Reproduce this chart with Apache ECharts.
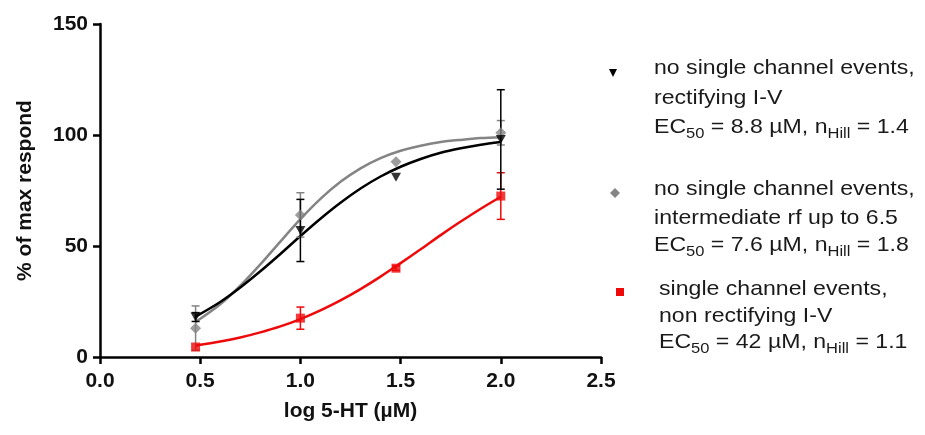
<!DOCTYPE html>
<html>
<head>
<meta charset="utf-8">
<script src="https://cdn.jsdelivr.net/npm/echarts@6/dist/echarts.min.js"></script>
<style>
html,body{margin:0;padding:0;background:#fff;}
#chart{width:925px;height:435px;}
</style>
</head>
<body>
<div id="chart"></div>
<script>
// ---- data ----
const doseX = [0.477, 1.0, 1.477, 2.0];
const rectMean = [18, 57, 81, 98];
const rectErr = [2, 14, 0, 22.4];
const interMean = [13, 64, 88, 101];
const interErr = [10, 10, 0, 5.5];
const nonRectMean = [4.5, 17.5, 40, 72.5];
const nonRectErr = [0, 5, 1, 10.5];

const curveX = [0.477, 0.6, 0.7, 0.8, 0.9, 1.0, 1.1, 1.2, 1.3, 1.4, 1.5, 1.6, 1.7, 1.8, 1.9, 2.0];
const rectFit = [18.2, 24.8, 31.3, 38.6, 46.4, 54.5, 62.3, 69.5, 75.9, 81.3, 85.7, 89.2, 92.0, 94.0, 95.6, 96.8];
const interFit = [15.8, 23.8, 32.1, 41.7, 52.0, 62.1, 71.2, 78.9, 85.0, 89.6, 92.9, 95.2, 96.8, 97.8, 98.6, 99.0];
const nonRectFit = [5.2, 7.0, 8.8, 11.1, 13.8, 17.1, 21.0, 25.5, 30.6, 36.2, 42.3, 48.5, 54.9, 61.0, 66.8, 72.2];

const xTicks = ['0.0', '0.5', '1.0', '1.5', '2.0', '2.5'];
const yTicks = ['0', '50', '100', '150'];

const legendLines = [
  ['no single channel events,', 'rectifying I-V', 'EC{sub|50} = 8.8 µM, n{sub|Hill} = 1.4'],
  ['no single channel events,', 'intermediate rf up to 6.5', 'EC{sub|50} = 7.6 µM, n{sub|Hill} = 1.8'],
  ['single channel events,', 'non rectifying I-V', 'EC{sub|50} = 42 µM, n{sub|Hill} = 1.1']
];

// ---- styles ----
const BLACK = '#000000', GRAY = '#848484', RED = '#ee0a0a';
const FONT = '"Liberation Sans", Arial, sans-serif';

function pairs(xs, ys){ return xs.map((x,i)=>[x, ys[i]]); }
function errData(xs, m, e){ return xs.map((x,i)=>[x, m[i]-e[i], m[i]+e[i]]); }

function errSeries(data, color){
  return {
    type: 'custom',
    data: data,
    z: 3,
    renderItem: function(params, api){
      const x = api.value(0), lo = api.value(1), hi = api.value(2);
      if (hi - lo <= 0.01) return null;
      const pt = api.coord([x, hi]), pb = api.coord([x, lo]);
      const w = 4;
      const st = {stroke: color, lineWidth: 1.5};
      return {type:'group', children:[
        {type:'line', shape:{x1:pt[0], y1:pt[1], x2:pb[0], y2:pb[1]}, style:st},
        {type:'line', shape:{x1:pt[0]-w, y1:pt[1], x2:pt[0]+w, y2:pt[1]}, style:st},
        {type:'line', shape:{x1:pb[0]-w, y1:pb[1], x2:pb[0]+w, y2:pb[1]}, style:st}
      ]};
    }
  };
}

function fitSeries(data, color){
  return {type:'line', data:data, smooth:0.3, symbol:'none', lineStyle:{color:color, width:2.5}, z:2};
}

function ptSeries(data, color, symbol, size, rot){
  return {type:'scatter', data:data, symbol:symbol, symbolSize:size, symbolRotate:rot||0,
          itemStyle:{color:color}, z:4};
}

// legend graphics
const legendX = [654, 654, 659];
const legendY = [[72, 102, 131], [193, 222, 249], [293, 320, 346]];
const graphics = [];
const rich = {
  m: {fontSize: 21, fontFamily: FONT, color: '#1a1a1a', lineHeight: 28},
  sub: {fontSize: 15, fontFamily: FONT, color: '#1a1a1a', lineHeight: 15, verticalAlign: 'bottom'}
};
legendLines.forEach((lines, b) => {
  lines.forEach((t, i) => {
    const txt = t.replace(/^([^{]*)/, '{m|$1}').replace(/\}([^{]+)\{/g, '}{m|$1}{').replace(/\}([^{}]+)$/, '}{m|$1}');
    graphics.push({
      type: 'text', left: legendX[b], top: legendY[b][i] - 14, scaleX: 1.1,
      style: {text: txt, rich: rich, fontSize: 21, fontFamily: FONT, fill: '#1a1a1a'}
    });
  });
});
// legend markers
graphics.push({type:'polygon', shape:{points:[[609,69],[617,69],[613,77]]}, style:{fill:BLACK}});
graphics.push({type:'polygon', shape:{points:[[615,188],[620,193],[615,198],[610,193]]}, style:{fill:GRAY}});
graphics.push({type:'rect', shape:{x:616, y:288, width:8, height:8}, style:{fill:RED}});

const chart = echarts.init(document.getElementById('chart'), null, {renderer:'canvas'});
chart.setOption({
  backgroundColor: '#ffffff',
  animation: false,
  grid: {left: 100, right: 324, top: 24, bottom: 78, containLabel: false},
  xAxis: {
    type: 'value', min: 0, max: 2.5, interval: 0.5,
    name: 'log 5-HT (µM)', nameLocation: 'middle', nameGap: 44,
    nameTextStyle: {fontSize: 21, fontWeight: 'bold', fontFamily: FONT, color: '#111'},
    axisLine: {lineStyle: {color: '#000', width: 2.5}},
    axisTick: {length: 7, lineStyle: {color: '#000', width: 2.5}},
    axisLabel: {fontSize: 21, fontWeight: 'bold', fontFamily: FONT, color: '#111', margin: 14,
                formatter: v => xTicks[Math.round(v / 0.5)]},
    splitLine: {show: false}
  },
  yAxis: {
    type: 'value', min: 0, max: 150, interval: 50,
    name: '% of max respond', nameLocation: 'middle', nameGap: 64, nameRotate: 90,
    nameTextStyle: {fontSize: 21, fontWeight: 'bold', fontFamily: FONT, color: '#111'},
    axisLine: {show: true, lineStyle: {color: '#000', width: 2.5}},
    axisTick: {show: true, length: 7, lineStyle: {color: '#000', width: 2.5}},
    axisLabel: {fontSize: 21, fontWeight: 'bold', fontFamily: FONT, color: '#111', margin: 12,
                formatter: v => yTicks[Math.round(v / 50)]},
    splitLine: {show: false}
  },
  graphic: graphics,
  series: [
    fitSeries(pairs(curveX, nonRectFit), RED),
    fitSeries(pairs(curveX, interFit), GRAY),
    fitSeries(pairs(curveX, rectFit), BLACK),
    errSeries(errData(doseX, nonRectMean, nonRectErr), RED),
    errSeries(errData(doseX, interMean, interErr), GRAY),
    errSeries(errData(doseX, rectMean, rectErr), BLACK),
    ptSeries(pairs(doseX, nonRectMean), RED, 'rect', 9),
    ptSeries(pairs(doseX, interMean), GRAY, 'diamond', 11),
    ptSeries(pairs(doseX, rectMean), BLACK, 'triangle', [10, 9], 180)
  ]
});
</script>
</body>
</html>
